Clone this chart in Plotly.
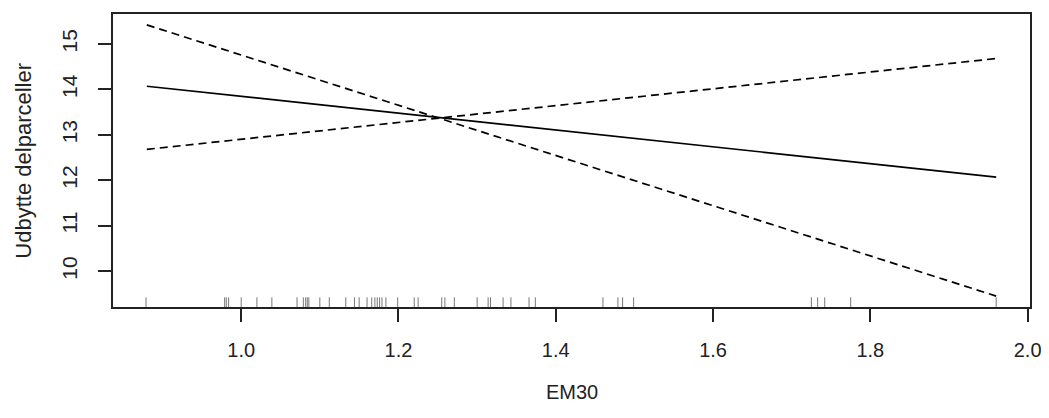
import plotly.graph_objects as go

# Data
x_ends = [0.88, 1.96]
fit = [14.07, 12.07]
upper = [15.42, 9.45]
lower = [12.68, 14.68]
rug_x = [0.879, 0.979, 0.981, 0.984, 1.000, 1.020, 1.039, 1.071, 1.079, 1.082,
         1.084, 1.086, 1.100, 1.112, 1.133, 1.144, 1.150, 1.160, 1.166, 1.170,
         1.173, 1.176, 1.179, 1.184, 1.199, 1.220, 1.225, 1.255, 1.259, 1.271,
         1.300, 1.314, 1.317, 1.333, 1.343, 1.366, 1.374, 1.460, 1.479, 1.485,
         1.499, 1.725, 1.733, 1.742, 1.775, 1.960]
x_ticks = [1.0, 1.2, 1.4, 1.6, 1.8, 2.0]
y_ticks = [10, 11, 12, 13, 14, 15]
x_title = "EM30"
y_title = "Udbytte delparceller"

FONT = "Liberation Sans, Arial, sans-serif"
TXT = "#222222"

fig = go.Figure()
fig.add_trace(go.Scatter(x=x_ends, y=fit, mode="lines",
                         line=dict(color="black", width=1.7), showlegend=False))
fig.add_trace(go.Scatter(x=x_ends, y=upper, mode="lines",
                         line=dict(color="black", width=1.7, dash="8px,5px"), showlegend=False))
fig.add_trace(go.Scatter(x=x_ends, y=lower, mode="lines",
                         line=dict(color="black", width=1.7, dash="8px,5px"), showlegend=False))

for rx in rug_x:
    fig.add_shape(type="line", xref="x", yref="paper", x0=rx, x1=rx, y0=0, y1=0.033,
                  line=dict(color="#777777", width=1))

# The page body adds an 8px offset on the left and top; sizes compensate for it.
fig.update_layout(
    width=1041, height=410,
    margin=dict(l=105, r=19, t=4, b=111),
    plot_bgcolor="white", paper_bgcolor="white",
    font=dict(family=FONT, size=20, color=TXT),
    xaxis=dict(range=[0.837, 2.003], tickvals=x_ticks, tickformat=".1f",
               tickfont=dict(size=20),
               showgrid=False, zeroline=False, showline=True, mirror=True,
               linecolor=TXT, linewidth=1.5, ticks="outside", ticklen=13,
               tickwidth=1.5, tickcolor=TXT, ticklabelstandoff=11),
    yaxis=dict(range=[9.21, 15.66], tickvals=y_ticks, tickangle=-90,
               tickfont=dict(size=21),
               showgrid=False, zeroline=False, showline=True, mirror=True,
               linecolor=TXT, linewidth=1.5, ticks="outside", ticklen=13,
               tickwidth=1.5, tickcolor=TXT, ticklabelstandoff=13),
    annotations=[
        dict(text=x_title, xref="paper", yref="paper", x=0.5, y=-0.29,
             xanchor="center", yanchor="middle", showarrow=False,
             font=dict(family=FONT, size=20, color=TXT)),
        dict(text=y_title, xref="paper", yref="paper", x=-0.098, y=0.5,
             xanchor="center", yanchor="middle", textangle=-90, showarrow=False,
             font=dict(family=FONT, size=22, color=TXT)),
    ],
)

fig.write_html("out.html")
